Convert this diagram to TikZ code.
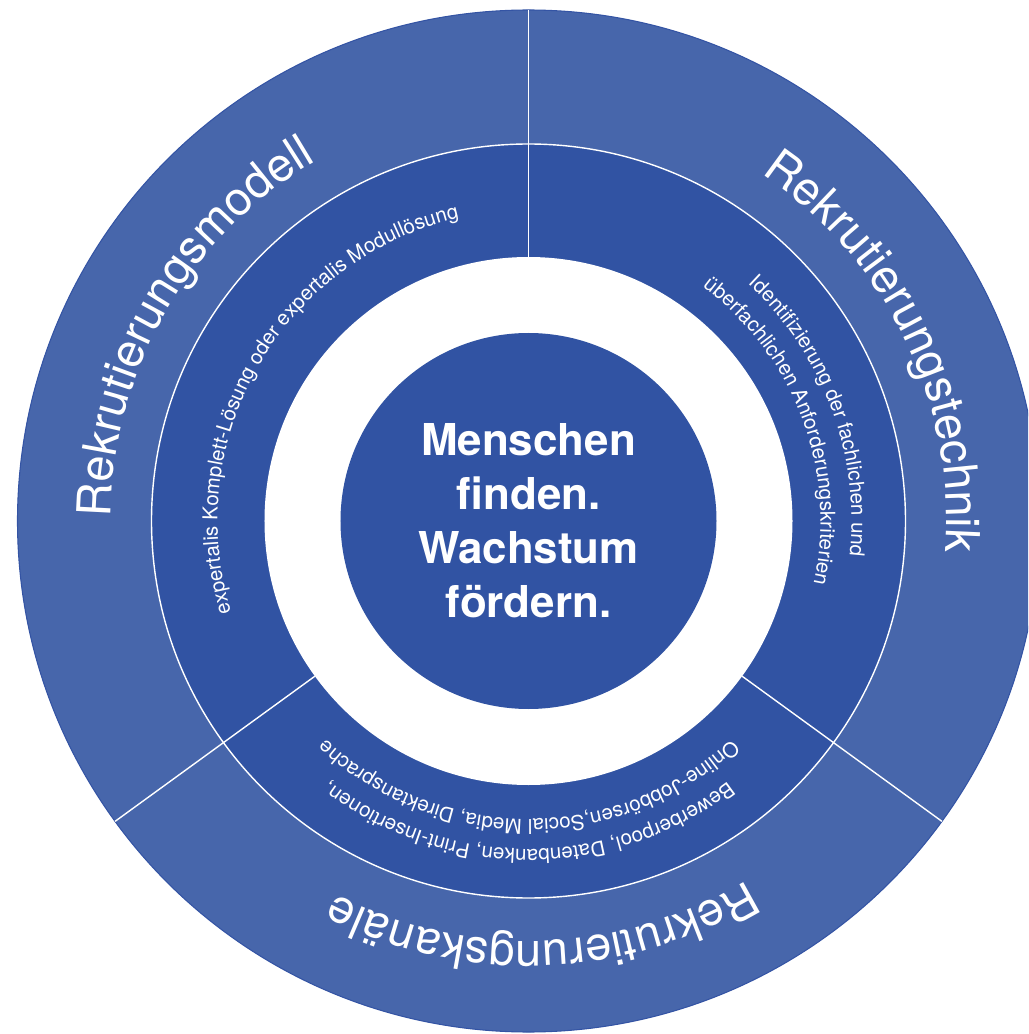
\documentclass[tikz,border=0pt]{standalone}
\usepackage{fontspec}
\setmainfont{TeX Gyre Heros}
\usepackage{tikz}
\usetikzlibrary{decorations.text}
\definecolor{blauaussen}{RGB}{71,102,171}
\definecolor{blauinnen}{RGB}{49,83,163}
\definecolor{blaurand}{RGB}{52,84,164}
\newcommand{\titelfont}{\fontsize{26.7pt}{32pt}\selectfont}
\newcommand{\kleinfont}{\fontsize{11.7pt}{14pt}\selectfont}

\begin{document}
\begin{tikzpicture}[x=0.02cm, y=0.02cm,
		bogen/.style={decorate, decoration={text along path, text align=center, text={#1}}}]
					%%% Cornice
					\useasboundingbox (-528.5,-513) rectangle (499.5,521);
					\clip (-528.5,-513) rectangle (499.5,521);
					
					%%% Punti
					\coordinate (M) at (0,0);		% Centro
					
					%%% Anelli
					\fill[blauaussen, draw=blaurand, line width=0.6pt] (M) circle[radius=511];
					\filldraw[fill=blauinnen, draw=white, line width=0.8pt] (M) circle[radius=377];
					\fill[white] (M) circle[radius=264];
					\fill[blauinnen] (M) circle[radius=188];
					
					%%% Linee di separazione
					\draw[white, line width=0.8pt] (90:264) -- (90:511);
					\draw[white, line width=0.8pt] (216:264) -- (216:511);
					\draw[white, line width=0.8pt] (324:264) -- (324:511);
					
					%%% Titoli esterni
					\path[bogen={|\color{white}\titelfont|Rekrutierungsmodell}] (210:418) arc[start angle=210, end angle=90, radius=418];
					\path[bogen={|\color{white}\titelfont|Rekrutierungstechnik}] (86:418) arc[start angle=86, end angle=-34, radius=418];
					\path[bogen={|\color{white}\titelfont|Rekrutierungskanäle}] (-28:420) arc[start angle=-28, end angle=-148, radius=420];
					
					%%% Testi interni
					\path[bogen={|\color{white}\kleinfont|expertalis Komplett-Lösung oder expertalis Modullösung}] (230:311) arc[start angle=230, end angle=70, radius=311];
					\path[bogen={|\color{white}\kleinfont|Identifizierung der fachlichen und}] (75:323) arc[start angle=75, end angle=-34, radius=323];
					\path[bogen={|\color{white}\kleinfont|überfachlichen Anforderungskriterien}] (80:292) arc[start angle=80, end angle=-39, radius=292];
					\path[bogen={|\color{white}\kleinfont|Bewerberpool, Datenbanken, Print-Insertionen,}] (-20:328) arc[start angle=-20, end angle=-160, radius=328];
					\path[bogen={|\color{white}\kleinfont|Online-Jobbörsen,Social Media, Direktansprache}] (-20:298) arc[start angle=-20, end angle=-160, radius=298];
					
					%%% Centro
					\node[text=white, align=center, font=\bfseries\fontsize{25pt}{30.7pt}\selectfont] (kern) at (M) {Menschen\\finden.\\Wachstum\\fördern.};
				\end{tikzpicture}
\end{document}
